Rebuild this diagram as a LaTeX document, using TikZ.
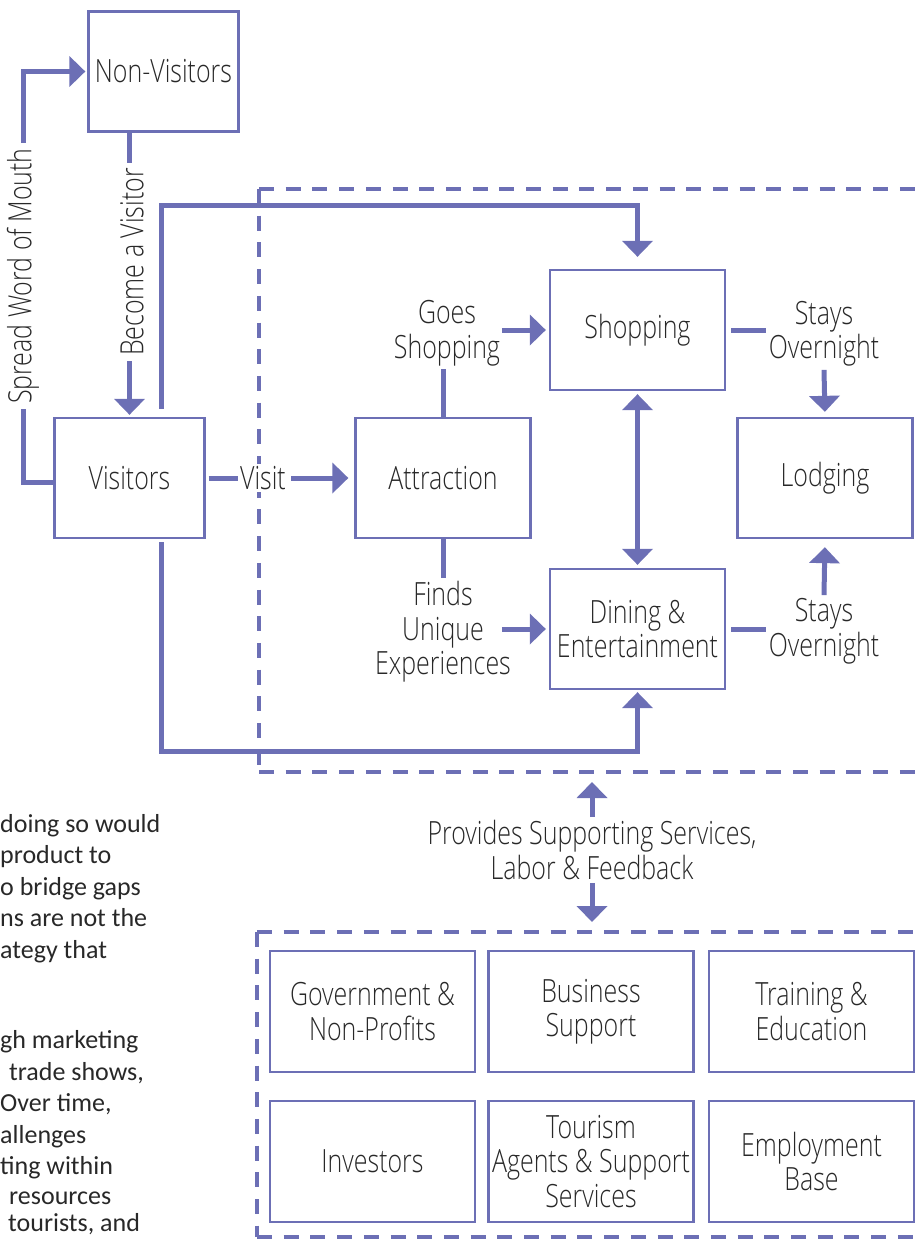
\documentclass[tikz,border=0pt]{standalone}
\usepackage{fontspec}
\setmainfont{Open Sans}[UprightFont=* Light, FakeStretch=0.78]
\newfontfamily\bodyfont{Carlito}
\usetikzlibrary{arrows.meta}
\definecolor{tour}{RGB}{108,111,181}
\definecolor{ink}{RGB}{40,40,40}

\begin{document}
\begin{tikzpicture}[
    x=1pt, y=-1pt,
    font=\fontsize{32}{34.5}\selectfont, text=ink,
    box/.style={draw=tour, line width=2.3pt, align=center, minimum height=120pt, inner sep=2pt},
    wide/.style={box, minimum width=175pt},
    narrow/.style={box, minimum width=150pt},
    base/.style={box, minimum width=205pt, minimum height=121pt},
    lbl/.style={align=center, inner sep=3pt},
    conn/.style={draw=tour, line width=5pt},
    arr/.style={conn, -{Triangle[width=30pt,length=16pt]}},
    dbl/.style={conn, {Triangle[width=30pt,length=16pt]}-{Triangle[width=30pt,length=16pt]}},
    frame/.style={draw=tour, line width=4.5pt, dash pattern=on 15pt off 11.7pt},
    body/.style={anchor=base west, inner sep=0pt, text=ink, font=\bodyfont\fontsize{26}{31}\selectfont}
  ]
    \useasboundingbox (0,0) rectangle (917,1239);
    \clip (0,0) rectangle (917,1239);

    % dashed frames
    \coordinate (upTL) at (259,189);
    \coordinate (upBL) at (259,772);
    \coordinate (loTL) at (257,932);
    \coordinate (loBL) at (257,1237);
    \draw[frame] (upTL) -- (930,189);
    \draw[frame] (upTL) -- (upBL);
    \draw[frame] (upBL) -- (930,772);
    \draw[frame] (loTL) -- (930,932);
    \draw[frame] (loTL) -- (loBL);
    \draw[frame] (loBL) -- (930,1237);

    % main boxes
    \node[narrow] (nonvis) at (163.5,71.5) {Non-Visitors};
    \node[narrow] (vis) at (129.5,478) {Visitors};
    \node[wide] (attr) at (443,478) {Attraction};
    \node[wide] (shop) at (637.5,330) {Shopping};
    \node[wide] (lodge) at (825,478) {Lodging};
    \node[wide] (dine) at (637.5,629) {Dining \&\\Entertainment};

    % labels
    \node[lbl, rotate=90, inner sep=5pt] (spread) at (23,276) {Spread Word of Mouth};
    \node[lbl, rotate=90, inner sep=5pt] (become) at (132,262) {Become a Visitor};
    \node[lbl, inner sep=2pt, fill=white] (visit) at (263,478) {Visit};
    \node[lbl] (goes) at (447,333) {Goes\\Shopping};
    \node[lbl] (finds) at (443,632) {Finds\\Unique\\Experiences};
    \node[lbl] (stay1) at (824,334) {Stays\\Overnight};
    \node[lbl] (stay2) at (824,631) {Stays\\Overnight};
    \node[lbl] (supp) at (592,850) {Provides Supporting Services,\\Labor \& Feedback};

    % support base
    \node[base] (gov) at (372.5,1011.5) {Government \&\\Non-Profits};
    \node[base] (bus) at (591,1011.5) {Business\\Support};
    \node[base] (train) at (811.5,1011.5) {Training \&\\Education};
    \node[base] (inv) at (372.5,1161.5) {Investors};
    \node[base] (agents) at (591,1161.5) {Tourism\\Agents \& Support\\Services};
    \node[base] (employ) at (811.5,1161.5) {Employment\\Base};

    % connectors
    \draw[conn] ([yshift=-4pt]vis.west) -| (spread.west);
    \draw[arr, shorten >=2pt] (spread.east) |- (nonvis.west);
    \draw[conn] (nonvis.south -| vis.north) -- (become.east -| vis.north);
    \draw[arr, shorten >=2pt] (become.west -| vis.north) -- (vis.north);
    \draw[arr, shorten <=8pt, shorten >=12pt] ([xshift=32pt]vis.north) |- ([yshift=63pt]shop.north) -- (shop.north);
    \draw[arr, shorten <=3pt, shorten >=2pt] ([xshift=32pt]vis.south) |- ([yshift=-61pt]dine.south) -- (dine.south);
    \draw[conn, shorten <=3pt] (vis.east) -- (visit.west);
    \draw[arr, shorten <=3pt, shorten >=6pt] (visit.east) -- (attr.west);
    \draw[conn] (attr.north) -- (goes.south -| attr.north);
    \draw[arr, shorten >=3pt] ([xshift=-47pt]shop.west) -- (shop.west);
    \draw[conn] (attr.south) -- (finds.north -| attr.south);
    \draw[arr, shorten >=3pt] ([xshift=-47pt]dine.west) -- (dine.west);
    \draw[dbl, shorten <=3pt, shorten >=3pt] (shop.south) -- (dine.north);
    \draw[conn, shorten <=5pt] (shop.east) -- (stay1.west |- shop.east);
    \draw[arr, shorten >=5pt] (stay1.south) -- (lodge.north);
    \draw[conn, shorten <=5pt] (dine.east) -- (stay2.west |- dine.east);
    \draw[arr, shorten >=8pt] (stay2.north) -- (lodge.south);
    \draw[arr, shorten >=10pt] (supp.north) -- (supp.north |- upBL);
    \draw[arr, shorten >=10pt] (supp.south) -- (supp.south |- loTL);

    % cut-off page text
    \node[body] (body1) at (0,832) {doing so would};
    \node[body] (body2) at (0,863.5) {product to};
    \node[body] (body3) at (0,895) {o bridge gaps};
    \node[body] (body4) at (0,926.5) {ns are not the};
    \node[body] (body5) at (0,958) {ategy that};
    \node[body] (body6) at (0,1048) {gh marketing};
    \node[body] (body7) at (9,1080) {trade shows,};
    \node[body] (body8) at (0,1111) {Over time,};
    \node[body] (body9) at (0,1143) {allenges};
    \node[body] (body10) at (0,1174) {ting within};
    \node[body] (body11) at (9,1204) {resources};
    \node[body] (body12) at (8,1231) {tourists, and};
  \end{tikzpicture}
\end{document}
